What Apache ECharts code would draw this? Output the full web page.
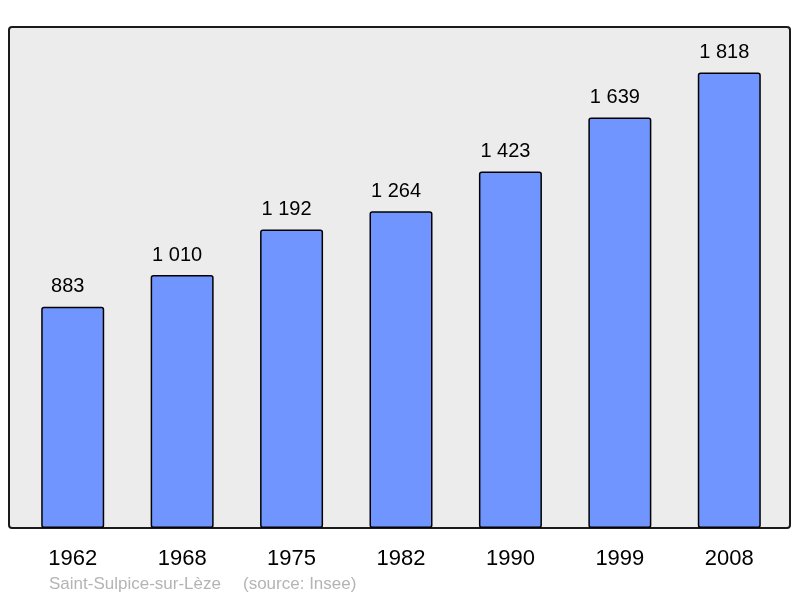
<!DOCTYPE html>
<html>
<head>
<meta charset="utf-8">
<script src="https://cdn.jsdelivr.net/npm/echarts@6/dist/echarts.min.js"></script>
<style>
  html, body { margin: 0; padding: 0; background: #fff; }
  #chart { width: 800px; height: 598px; }
</style>
</head>
<body>
<div id="chart"></div>
<script>
// population par recensement
const years = ['1962', '1968', '1975', '1982', '1990', '1999', '2008'];
const population = [883, 1010, 1192, 1264, 1423, 1639, 1818];
const commune = 'Saint-Sulpice-sur-Lèze';
const source = '(source: Insee)';

const fmt = (v) => String(v).replace(/\B(?=(\d{3})+(?!\d))/g, ' ');
const font = 'Liberation Sans, Arial, sans-serif';

const chart = echarts.init(document.getElementById('chart'));
chart.setOption({
  backgroundColor: '#fff',
  animation: false,
  textStyle: { fontFamily: font },
  graphic: [
    { // cadre gris du fond
      type: 'rect', z: -10,
      shape: { x: 9, y: 27, width: 781, height: 501, r: 3 },
      style: { fill: '#ececec', stroke: '#1a1a1a', lineWidth: 2 }
    },
    {
      type: 'text', left: 49, top: 576,
      style: { text: commune, fill: '#b4b4b4', fontSize: 17, fontFamily: font }
    },
    {
      type: 'text', left: 243, top: 576,
      style: { text: source, fill: '#b4b4b4', fontSize: 17, fontFamily: font }
    }
  ],
  grid: { left: 18, right: 16, top: 27, bottom: 70, containLabel: false },
  xAxis: {
    type: 'category',
    data: years,
    axisLine: { show: false },
    axisTick: { show: false },
    axisLabel: { color: '#000', fontSize: 22, margin: 20 }
  },
  yAxis: {
    type: 'value', min: 0, max: 2000,
    show: false,
    splitLine: { show: false }
  },
  series: [{
    type: 'bar',
    data: population,
    barWidth: 63,
    itemStyle: { color: '#7095ff', borderColor: '#000', borderWidth: 1.5, borderRadius: 2 },
    label: {
      show: true, position: 'top', distance: 10, offset: [-5, 0],
      color: '#000', fontSize: 20,
      formatter: (p) => fmt(p.value)
    }
  }]
});
</script>
</body>
</html>
